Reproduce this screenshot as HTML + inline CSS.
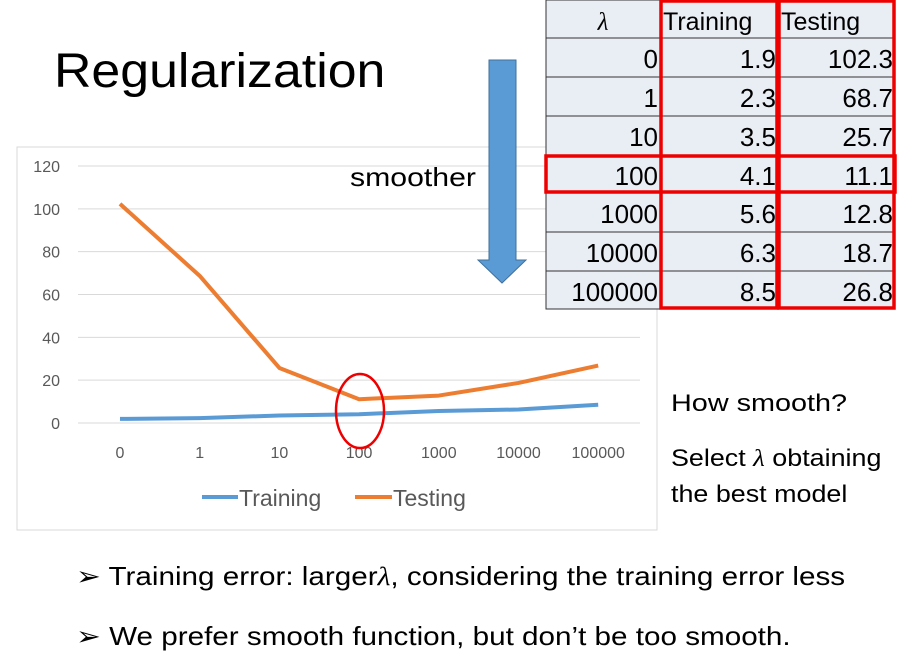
<!DOCTYPE html>
<html><head><meta charset="utf-8"><style>
body{margin:0;width:910px;height:662px;background:#fff;overflow:hidden;font-family:"Liberation Sans",sans-serif;position:relative}
.t{position:absolute;white-space:nowrap;color:#000;transform-origin:0 0}
</style></head><body>
<div class="t" style="left:54px;top:44px;font-size:48px;transform:scaleX(1.08)">Regularization</div>
<svg width="910" height="662" style="position:absolute;left:0;top:0">
<rect x="17" y="147" width="640" height="383" fill="#fff" stroke="#d9d9d9"/>
<g id="grid"></g><g id="ylab"></g><g id="xlab"></g><g id="lines"></g>
<g>
<line x1="202" y1="497" x2="238" y2="497" stroke="#5b9bd5" stroke-width="4"/>
<text x="239" y="506" font-size="23" fill="#595959" font-family="Liberation Sans">Training</text>
<line x1="355" y1="497" x2="392" y2="497" stroke="#ed7d31" stroke-width="4"/>
<text x="393" y="506" font-size="23" fill="#595959" font-family="Liberation Sans">Testing</text>
</g>
<ellipse cx="360" cy="411" rx="24" ry="37" fill="none" stroke="#e00" stroke-width="2.5"/>
<polygon points="489,60 516,60 516,260 526,260 502,283 478,260 489,260" fill="#5b9bd5" stroke="#41719c"/>
<text x="350" y="186" font-size="26" textLength="126" lengthAdjust="spacingAndGlyphs" fill="#000" font-family="Liberation Sans">smoother</text>
<g id="table"></g>
</svg>
<div class="t" style="left:671px;top:390px;font-size:24px;transform:scaleX(1.2)">How smooth?</div>
<div class="t" style="left:671px;top:441px;font-size:24px;line-height:36px;transform:scaleX(1.12)">Select <i style="font-family:'Liberation Serif'">λ</i> obtaining<br>the best model</div>
<div class="t" style="left:76px;top:561px;font-size:26px;transform:scaleX(1.14)">➢ Training error: larger<i style="font-family:'Liberation Serif'">λ</i>, considering the training error less</div>
<div class="t" style="left:76px;top:621px;font-size:26px;transform:scaleX(1.14)">➢ We prefer smooth function, but don’t be too smooth.</div>
<script>
const categories=["0","1","10","100","1000","10000","100000"];
const training=[1.9,2.3,3.5,4.1,5.6,6.3,8.5];
const testing=[102.3,68.7,25.7,11.1,12.8,18.7,26.8];
const yTicks=[0,20,40,60,80,100,120];
const NS="http://www.w3.org/2000/svg";
const x=i=>120+i*79.7, y=v=>423-v*(257/120);
function mk(tag,at,parent){const e=document.createElementNS(NS,tag);for(const k in at)e.setAttribute(k,at[k]);document.getElementById(parent).appendChild(e);return e;}
yTicks.forEach(t=>{
 const g=mk('line',{x1:78,x2:640,y1:y(t),y2:y(t),stroke:'#d9d9d9','stroke-width':1},'grid');
 
 
 const l=mk('text',{x:60,y:y(t)+6,'text-anchor':'end','font-size':16,fill:'#595959','font-family':'Liberation Sans'},'ylab');l.textContent=t;
 
 
});
categories.forEach((c,i)=>{
 const l=mk('text',{x:x(i),y:458,'text-anchor':'middle','font-size':16,fill:'#595959','font-family':'Liberation Sans'},'xlab');l.textContent=c;
 
 
});
[[training,'#5b9bd5','training-line'],[testing,'#ed7d31','testing-line']].forEach(([d,c,n])=>{
 const p=mk('polyline',{points:d.map((v,i)=>x(i)+','+y(v)).join(' '),fill:'none',stroke:c,'stroke-width':4,'stroke-linejoin':'round'},'lines');
 
 
});
const cols=[546,660,778,895], rows=[0,38,77,116,155,193,232,271,309];
for(let r=0;r<8;r++){
 const bg=mk('rect',{x:546,y:rows[r],width:349,height:rows[r+1]-rows[r],fill:'#e9edf4',stroke:'#333','stroke-width':1},'table');
 
 
}
const head=['λ','Training','Testing'];
head.forEach((h,j)=>{
 const t=mk('text',{x:j==0?603:cols[j]+3,y:30,'text-anchor':j==0?'middle':'start','font-size':25,fill:'#000','font-family':j==0?'Liberation Serif':'Liberation Sans','font-style':j==0?'italic':'normal'},'table');t.textContent=h;
 
 
});
categories.forEach((c,i)=>{
 [c,training[i].toFixed(1),testing[i].toFixed(1)].forEach((v,j)=>{
  const t=mk('text',{x:cols[j+1]-2,y:rows[i+1]+30,'text-anchor':'end','font-size':26,fill:'#000','font-family':'Liberation Sans'},'table');t.textContent=v;
  
  
 });
});
[[661,0,116,309],[779,0,115,309],[546,155,349,38]].forEach(([a,b,w,h])=>{
 const r=mk('rect',{x:a,y:b+1,width:w,height:h-2,fill:'none',stroke:'#e00','stroke-width':3.5},'table');
 
 
});
</script>
</body></html>
